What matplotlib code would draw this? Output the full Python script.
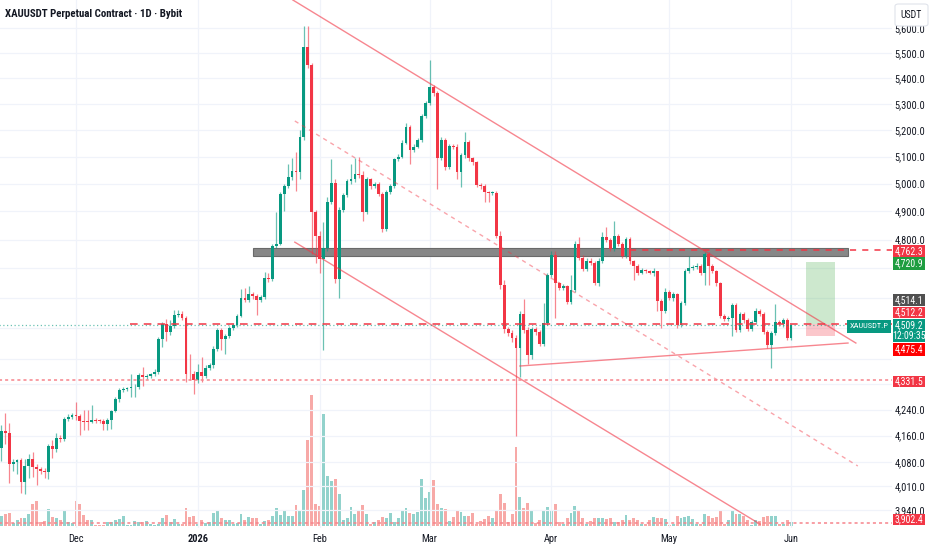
import matplotlib
matplotlib.use("Agg")
import matplotlib.pyplot as plt
import matplotlib.font_manager as fm
from matplotlib.patches import Rectangle, FancyBboxPatch
from matplotlib.ticker import NullLocator
import pandas as pd

W, H = 932, 550

# daily candles, XAUUSDT perpetual (Bybit)
dates = pd.date_range("2025-11-12", periods=202, freq="D")
first_open = 4124
closes = [
    4175, 4169, 4074, 4080, 4086, 4022, 4068, 4089, 4065, 4059,
    4054, 4051, 4130, 4121, 4154, 4151, 4211, 4217, 4223, 4220,
    4205, 4203, 4201, 4208, 4206, 4204, 4196, 4208, 4235, 4272,
    4300, 4303, 4306, 4309, 4312, 4347, 4341, 4344, 4350, 4359,
    4465, 4513, 4487, 4506, 4543, 4546, 4533, 4353, 4350, 4331,
    4359, 4344, 4372, 4379, 4433, 4494, 4465, 4474, 4500, 4510,
    4540, 4599, 4592, 4612, 4605, 4592, 4602, 4666, 4663, 4779,
    4786, 4962, 4991, 5023, 5045, 5041, 5174, 5524, 5452, 4898,
    4813, 4731, 4772, 4933, 5002, 4663, 4905, 4958, 5009, 5016,
    5034, 5030, 4898, 5016, 4991, 4998, 4962, 4838, 4969, 4991,
    5089, 5100, 5152, 5212, 5126, 5137, 5163, 5254, 5303, 5366,
    5342, 5096, 5163, 5060, 5141, 5137, 5041, 5104, 5156, 5093,
    5078, 4995, 4991, 4969, 4966, 4966, 4813, 4642, 4497, 4484,
    4468, 4436, 4546, 4494, 4411, 4497, 4487, 4449, 4516, 4676,
    4747, 4649, 4632, 4639, 4586, 4626, 4786, 4737, 4697, 4727,
    4720, 4649, 4727, 4809, 4799, 4768, 4813, 4786, 4744, 4803,
    4724, 4710, 4686, 4693, 4690, 4686, 4690, 4589, 4556, 4619,
    4599, 4612, 4510, 4583, 4690, 4700, 4704, 4710, 4683, 4751,
    4710, 4690, 4649, 4540, 4530, 4533, 4576, 4494, 4546, 4526,
    4497, 4520, 4556, 4546, 4487, 4446, 4484, 4520, 4513, 4526,
    4468, 4509.2,
]
highs = [
    4193, 4229, 4199, 4089, 4091, 4092, 4090, 4106, 4112, 4074,
    4065, 4062, 4136, 4148, 4169, 4162, 4218, 4225, 4230, 4263,
    4226, 4238, 4238, 4254, 4214, 4212, 4210, 4215, 4240, 4280,
    4308, 4310, 4312, 4353, 4320, 4355, 4375, 4352, 4356, 4366,
    4472, 4520, 4529, 4526, 4559, 4559, 4556, 4540, 4414, 4360,
    4382, 4407, 4380, 4386, 4440, 4500, 4500, 4482, 4507, 4517,
    4547, 4629, 4632, 4639, 4620, 4612, 4610, 4687, 4684, 4786,
    4898, 4970, 5000, 5074, 5096, 5115, 5201, 5610, 5610, 5460,
    4905, 4830, 4863, 4950, 5089, 5016, 4915, 4965, 5018, 5071,
    5093, 5100, 5045, 5025, 5022, 5006, 5005, 4970, 4977, 5000,
    5096, 5108, 5160, 5227, 5220, 5145, 5170, 5262, 5312, 5472,
    5374, 5350, 5172, 5170, 5148, 5148, 5145, 5112, 5193, 5163,
    5100, 5085, 5002, 4998, 4975, 4973, 4973, 4830, 4660, 4505,
    4492, 4478, 4555, 4596, 4502, 4505, 4505, 4495, 4582, 4685,
    4761, 4761, 4655, 4646, 4645, 4676, 4795, 4809, 4745, 4735,
    4735, 4726, 4735, 4827, 4845, 4806, 4866, 4820, 4793, 4810,
    4810, 4730, 4716, 4700, 4699, 4696, 4700, 4692, 4595, 4632,
    4626, 4620, 4618, 4590, 4698, 4744, 4712, 4718, 4716, 4758,
    4758, 4716, 4696, 4655, 4546, 4540, 4583, 4582, 4553, 4552,
    4532, 4527, 4566, 4562, 4552, 4493, 4490, 4579, 4527, 4532,
    4532, 4514,
]
lows = [
    4085, 4136, 4019, 4054, 4045, 3990, 3987, 4033, 4036, 4013,
    4045, 4033, 4030, 4094, 4112, 4140, 4145, 4205, 4212, 4208,
    4163, 4178, 4178, 4200, 4198, 4199, 4178, 4178, 4181, 4232,
    4265, 4295, 4298, 4278, 4278, 4305, 4315, 4335, 4338, 4345,
    4352, 4439, 4458, 4478, 4500, 4535, 4525, 4325, 4331, 4290,
    4322, 4325, 4338, 4365, 4372, 4425, 4429, 4417, 4468, 4495,
    4505, 4535, 4585, 4586, 4598, 4543, 4585, 4596, 4655, 4657,
    4772, 4780, 4901, 4985, 5015, 4973, 5016, 5163, 5440, 4751,
    4717, 4683, 4430, 4760, 4925, 4650, 4599, 4898, 4950, 5000,
    5005, 5020, 4866, 4890, 4982, 4985, 4955, 4827, 4830, 4962,
    4985, 5082, 5093, 5145, 5074, 5118, 5130, 5156, 5246, 5295,
    5330, 4980, 5088, 5050, 5052, 5128, 5016, 4987, 5096, 5085,
    5070, 4988, 4982, 4933, 4933, 4958, 4805, 4630, 4485, 4475,
    4455, 4160, 4341, 4485, 4385, 4400, 4478, 4440, 4440, 4510,
    4670, 4533, 4625, 4625, 4578, 4580, 4620, 4730, 4690, 4690,
    4712, 4642, 4640, 4720, 4790, 4760, 4760, 4778, 4736, 4736,
    4716, 4659, 4679, 4680, 4683, 4680, 4675, 4556, 4500, 4548,
    4592, 4590, 4500, 4503, 4576, 4683, 4693, 4698, 4676, 4642,
    4642, 4683, 4640, 4532, 4522, 4524, 4474, 4486, 4487, 4518,
    4490, 4490, 4513, 4540, 4480, 4436, 4372, 4478, 4506, 4505,
    4460, 4462,
]
# volume, arbitrary units
volumes = [
    10, 12, 13, 3, 6, 8, 8, 12, 22, 25,
    4, 5, 17, 9, 8, 6, 16, 4, 3, 25,
    22, 11, 6, 6, 1, 1, 1, 4, 4, 6,
    7, 10, 1, 1, 5, 4, 4, 5, 2, 1,
    2, 8, 11, 4, 7, 2, 2, 18, 9, 10,
    2, 6, 3, 4, 13, 16, 8, 6, 6, 2,
    3, 12, 6, 9, 8, 8, 2, 5, 6, 10,
    18, 11, 15, 10, 10, 21, 15, 36, 86, 131,
    22, 20, 112, 50, 45, 47, 32, 6, 8, 19,
    12, 16, 21, 12, 2, 4, 6, 9, 8, 13,
    4, 8, 15, 18, 13, 12, 14, 47, 28, 34,
    46, 22, 18, 17, 5, 9, 15, 14, 10, 10,
    13, 2, 5, 7, 10, 8, 16, 32, 23, 4,
    12, 79, 29, 18, 23, 15, 3, 6, 15, 19,
    16, 22, 4, 2, 8, 13, 20, 16, 8, 2,
    5, 8, 8, 8, 7, 8, 4, 4, 6, 11,
    6, 8, 6, 2, 2, 6, 9, 8, 8, 7,
    1, 2, 10, 8, 9, 10, 7, 2, 2, 12,
    10, 8, 9, 15, 2, 6, 16, 12, 12, 10,
    6, 1, 6, 5, 9, 10, 10, 10, 2, 2,
    6, 4,
]
assert len(closes) == len(highs) == len(lows) == len(volumes) == len(dates)

# drawings: (start index, start price, end index, end price)
channel_top = (74.2, 5717, 217.5, 4451)
channel_mid = (74.7, 5234, 218.0, 4069)
channel_bot = (74.7, 4791, 193.1, 3900)
support_line = (132.0, 4377, 215.5, 4451)
zone_x = (64.0, 215.5)
zone_prices = (4744, 4772)
position_x = (204.8, 212.2)
target, entry, stop = 4720.9, 4514.1, 4475.4
hline_zone = 4762.3
hline_mid = 4512.2
hline_low = 4331.5
hline_bottom = 3902.4
last_price = 4509.2
countdown = "12:09:35"

price_ticks = [3940, 4010, 4080, 4160, 4240, 4800, 4900, 5000, 5100,
               5200, 5300, 5400, 5500, 5600]
grid_only = [4320, 4400, 4500, 4600, 4700]

UP, DOWN = "#089981", "#f23645"
TEXT = "#131722"
GRID = "#f0f3fa"

# look for a narrow sans face, the screenshot's text is quite condensed
names = {f.name for f in fm.fontManager.ttflist}
family, condensed = "Liberation Sans", False
for cand in ["Roboto Condensed", "Liberation Sans Narrow", "Open Sans Condensed",
             "Noto Sans Condensed", "DejaVu Sans Condensed", "Noto Sans SemiCondensed",
             "Open Sans SemiCondensed"]:
    if cand in names:
        family, condensed = cand, True
        break
plt.rcParams["font.family"] = [family, "DejaVu Sans"]
fs_tick = 7.5 if condensed else 6.3
fs_title = 7.8 if condensed else 7.0
fs_box = 7.0 if condensed else 6.0

fig = plt.figure(figsize=(W / 100, H / 100), dpi=100, facecolor="white")
rect = [0, (H - 528) / H, 892 / W, 528 / H]
vax = fig.add_axes(rect, zorder=0)
ax = fig.add_axes(rect, zorder=1, sharex=vax)
ax.patch.set_alpha(0)

idx = list(range(len(closes)))
opens = [first_open] + closes[:-1]
is_up = [c >= o for o, c in zip(opens, closes)]

# volume overlay
vol_cols = ["#92d2cc" if u else "#f7a9a7" for u in is_up]
vax.bar(idx, volumes, width=0.75, color=vol_cols, linewidth=0)
vax.set_ylim(-2, 526)
vax.axis("off")

# grid
month_idx = [i for i, d in enumerate(dates) if d.day == 1]
month_lbl = [str(d.year) if d.month == 1 else d.strftime("%b") for d in dates[month_idx]]
for p in price_ticks + grid_only:
    ax.axhline(p, color=GRID, lw=0.9, zorder=0)
for m in month_idx:
    ax.axvline(m, color=GRID, lw=0.9, zorder=0)

# candles
cols = [UP if u else DOWN for u in is_up]
ax.vlines(idx, lows, highs, colors=cols, lw=0.9, alpha=0.6, zorder=3)
bottoms = [min(o, c) for o, c in zip(opens, closes)]
heights = [max(abs(c - o), 3) for o, c in zip(opens, closes)]
ax.bar(idx, heights, bottom=bottoms, width=0.72, color=cols, linewidth=0, zorder=4)

# resistance zone
ax.add_patch(Rectangle((zone_x[0], zone_prices[0]), zone_x[1] - zone_x[0],
                       zone_prices[1] - zone_prices[0], facecolor="#878787",
                       edgecolor="#6a6a6a", lw=0.8, zorder=2))

# channel and support lines
for ln, ls, a in [(channel_top, "-", 0.6), (channel_bot, "-", 0.6),
                  (channel_mid, (0, (3, 3)), 0.45), (support_line, "-", 0.6)]:
    ax.plot([ln[0], ln[2]], [ln[1], ln[3]], color=DOWN, lw=1.0, ls=ls, alpha=a, zorder=5)

# horizontal levels
xmax = 226.7
ax.plot([160, xmax], [hline_zone] * 2, color=DOWN, lw=1.1, ls=(0, (4, 4)), zorder=5)
ax.plot([32.7, xmax], [hline_mid] * 2, color=DOWN, lw=1.1, ls=(0, (5, 4)), zorder=5)
ax.plot([-1, xmax], [hline_low] * 2, color="#f7848c", lw=1.1, ls=(0, (2, 2)), zorder=5)
ax.plot([-1, xmax], [hline_bottom] * 2, color="#f7848c", lw=1.1, ls=(0, (2, 2)), zorder=5)
ax.plot([-1, 215.5], [last_price] * 2, color=UP, lw=0.9, ls=(0, (1, 2)), alpha=0.6, zorder=5)

# long position tool
ax.add_patch(Rectangle((position_x[0], entry), position_x[1] - position_x[0], target - entry,
                       facecolor="#4caf50", alpha=0.28, lw=0, zorder=2))
ax.add_patch(Rectangle((position_x[0], stop), position_x[1] - position_x[0], entry - stop,
                       facecolor=DOWN, alpha=0.28, lw=0, zorder=2))

# axes setup
ax.set_yscale("log")
ax.set_ylim(3889, 5717)
ax.set_xlim(-0.34, xmax)
ax.yaxis.set_minor_locator(NullLocator())
ax.set_yticks(price_ticks)
ax.set_yticklabels([f"{p:,.1f}" for p in price_ticks])
ax.yaxis.tick_right()
ax.set_xticks(month_idx)
ax.set_xticklabels(month_lbl)
for t, lbl in zip(ax.get_xticklabels(), month_lbl):
    if lbl.isdigit():
        t.set_fontweight("bold")
ax.tick_params(axis="both", length=0, labelsize=fs_tick, colors=TEXT)
ax.tick_params(axis="y", pad=2)
ax.tick_params(axis="x", pad=4)
for s in ax.spines.values():
    s.set_visible(False)


def fx(px):
    return px / W


def fy(py):
    return 1 - py / H


def price_box(text, top, bot, fc, x0=893, x1=925, size=fs_box):
    fig.add_artist(Rectangle((fx(x0), fy(bot)), fx(x1 - x0), (bot - top) / H,
                             transform=fig.transFigure, facecolor=fc, lw=0, zorder=10))
    fig.text(fx((x0 + x1) / 2), fy((top + bot) / 2), text, ha="center", va="center",
             color="white", fontsize=size, zorder=11, linespacing=1.15)


price_box(f"{hline_zone:,.1f}", 245, 257, DOWN)
price_box(f"{target:,.1f}", 257, 270, "#1f9d41")
price_box(f"{entry:,.1f}", 294, 306, "#505050")
price_box(f"{hline_mid:,.1f}", 307, 318, DOWN)
price_box(f"{last_price:,.1f}\n{countdown}", 319, 342, UP)
price_box(f"{stop:,.1f}", 343, 356, "#ff0000")
price_box(f"{hline_low:,.1f}", 376, 387, DOWN)
price_box(f"{hline_bottom:,.1f}", 514, 525, DOWN)
price_box("XAUUSDT.P", 320, 333, UP, x0=847, x1=891, size=fs_box - 1.0)

# currency box
fig.add_artist(FancyBboxPatch((fx(895), fy(26)), fx(33), 22 / H,
                              boxstyle="round,pad=0,rounding_size=0.004",
                              transform=fig.transFigure, facecolor="white",
                              edgecolor="#e0e3eb", lw=0.8, zorder=10))
fig.text(fx(911.5), fy(15), "USDT", ha="center", va="center", color=TEXT,
         fontsize=fs_box, zorder=11)

fig.text(fx(5), fy(14), "XAUUSDT Perpetual Contract · 1D · Bybit", ha="left",
         va="center", color=TEXT, fontsize=fs_title, fontweight="bold")

fig.savefig("out.png", dpi=100, facecolor="white")
